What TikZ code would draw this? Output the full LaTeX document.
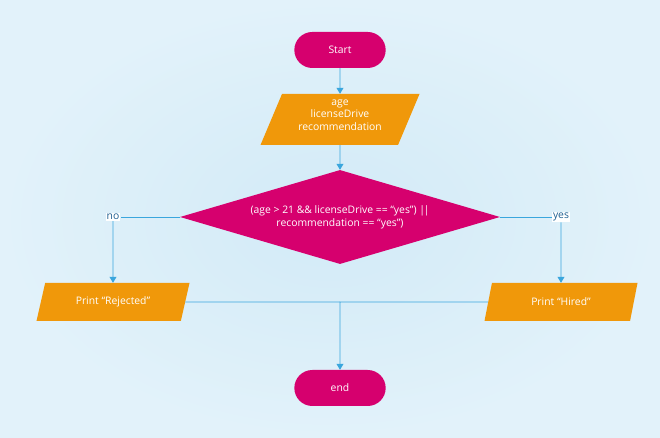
\documentclass[tikz,border=0pt]{standalone}
\usepackage{fontspec}
\setmainfont{Open Sans}
\usetikzlibrary{shapes.geometric,shapes.misc,arrows.meta}
\definecolor{flowpink}{RGB}{214,0,110}
\definecolor{floworange}{RGB}{240,152,10}
\definecolor{flowline}{RGB}{58,166,221}
\definecolor{bginner}{RGB}{210,234,247}
\definecolor{bgouter}{RGB}{226,242,250}
\definecolor{lbltext}{RGB}{30,95,145}
\begin{document}
\begin{tikzpicture}[x=1bp,y=1bp,
        every node/.style={font=\fontsize{10.4}{12.8}\selectfont, text=white, align=center},
        terminal/.style={rounded rectangle, fill=flowpink, minimum width=98bp, minimum height=36bp},
        io/.style={trapezium, trapezium left angle=63, trapezium right angle=117,
            trapezium stretches body, fill=floworange, minimum width=153bp, minimum height=38bp},
        decision/.style={diamond, fill=flowpink, aspect=3.4, minimum width=320bp,
            minimum height=94bp, inner sep=0pt},
        link/.style={draw=flowline, line width=0.75bp},
        flow/.style={link, -{Triangle[length=6bp,width=7bp]}},
        lbl/.style={fill=white, text=lbltext, inner sep=1bp}]
    % background
    \shade[inner color=bginner, outer color=bgouter] (0,0) rectangle (660,438);

    % nodes
    \node[terminal] (start) at (340,388) {Start};
    \node[io, minimum width=159bp, minimum height=51bp, inner sep=1bp, text depth=9bp] (input)
        at (340,318.5) {age\\licenseDrive\\recommendation};
    \node[decision] (cond) at (340,221)
        {(age > 21 \&\& licenseDrive == “yes”) |\kern-1.4bp|\\recommendation == “yes”)};
    \node[lbl] (no) at (113,221) {no};
    \node[lbl] (yes) at (561,221) {yes};
    \node[io] (rejected) at (113,136) {Print “Rejected”};
    \node[io] (hired) at (561,136) {Print “Hired”};
    \coordinate (join) at (340,136);
    \node[terminal] (stop) at (340,50) {end};

    % connectors
    \draw[flow] (start) -- (input);
    \draw[flow] (input) -- (cond);
    \draw[link] (cond.west) -- (no);
    \draw[flow] (no) -- (rejected);
    \draw[link] (cond.east) -- (yes);
    \draw[flow] (yes) -- (hired);
    \draw[link] (rejected.east) -- (join);
    \draw[flow] (hired.west) -- (join) -- (stop);
\end{tikzpicture}
\end{document}
